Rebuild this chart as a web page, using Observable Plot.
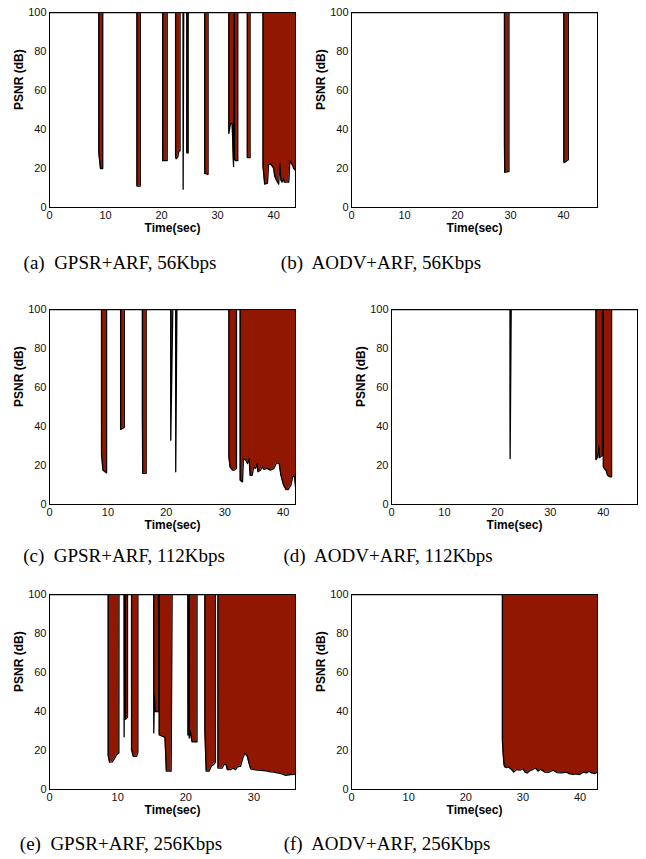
<!DOCTYPE html>
<html><head><meta charset="utf-8">
<script src="https://cdn.jsdelivr.net/npm/d3@7"></script>
<script src="https://cdn.jsdelivr.net/npm/@observablehq/plot@0.6"></script>
<style>
body{margin:0;background:#fff;}
#wrap{position:relative;width:646px;height:859px;overflow:hidden;background:#fff;}
.panel{position:absolute;}
.cap{position:absolute;font-family:"Liberation Serif","Times New Roman",serif;font-size:19px;line-height:1;white-space:pre;color:#000;transform:translate(-50%,-50%);}
</style></head><body><div id="wrap"></div>
<script>
// (a) GPSR+ARF, 56Kbps
const timeA = [0, 8.8, 8.8, 9.1, 9.5, 9.5, 15.6, 15.6, 16.2, 16.2, 20.2, 20.2, 21.0, 21.0, 22.5, 22.5, 22.6, 22.9, 23.1, 23.3, 23.3, 23.85, 23.85, 23.95, 24.5, 24.5, 24.75, 24.75, 27.7, 27.7, 28.3, 28.3, 32.0, 32.0, 32.3, 32.6, 32.8, 32.85, 32.9, 33.0, 33.0, 33.2, 33.6, 33.6, 35.3, 35.3, 35.8, 35.8, 38.1, 38.1, 38.4, 38.9, 39.1, 39.4, 39.8, 40.0, 40.2, 40.5, 40.9, 41.1, 41.3, 41.5, 41.7, 41.9, 42.7, 42.9, 43.3, 43.6, 43.9];
const psnrA = [100, 100, 28, 20, 20, 100, 100, 11, 11, 100, 100, 24, 24, 100, 100, 26, 25, 26, 29, 29, 100, 100, 9.4, 100, 100, 28, 28, 100, 100, 17.5, 17, 100, 100, 38, 43, 43, 25, 21, 100, 100, 25, 24, 24, 100, 100, 25.6, 25.6, 100, 100, 21, 12, 12.5, 22, 22.5, 21, 20, 16, 14, 12, 22.5, 14, 13, 15, 13, 13, 24, 22, 20, 19];
// (b) AODV+ARF, 56Kbps
const timeB = [0, 28.85, 28.85, 28.9, 29.7, 29.7, 40.05, 40.05, 40.1, 40.9, 40.9, 46.4];
const psnrB = [100, 100, 33, 18, 18.5, 100, 100, 24, 23, 24.5, 100, 100];
// (c) GPSR+ARF, 112Kbps
const timeC = [0, 8.9, 8.9, 9.15, 9.5, 9.77, 9.77, 12.17, 12.17, 12.8, 12.8, 15.9, 15.9, 15.95, 16.55, 16.55, 20.75, 20.75, 21.1, 21.6, 21.6, 21.8, 30.7, 30.7, 30.9, 31.3, 31.6, 32.0, 32.0, 32.63, 32.63, 33.03, 33.2, 33.6, 33.89, 34.17, 34.34, 34.69, 34.97, 35.26, 35.54, 35.66, 36.11, 36.4, 36.69, 37.26, 37.83, 38.4, 38.86, 39.31, 39.6, 40.06, 40.46, 40.86, 41.31, 41.66, 41.95, 42.1];
const psnrC = [100, 100, 26, 17.6, 16.8, 16.2, 100, 100, 38.5, 39.5, 100, 100, 45, 16, 16, 100, 100, 33, 100, 100, 16.8, 100, 100, 24.4, 19.3, 17.6, 17.6, 18.5, 100, 100, 12.5, 11.6, 23.6, 22.7, 21, 23.6, 15, 15, 19.3, 18.5, 21, 16.8, 17.6, 19.3, 18, 18.5, 17.6, 18.5, 21.4, 21, 15, 9.9, 7.7, 7.7, 9.9, 14.5, 14.5, 9];
// (d) AODV+ARF, 112Kbps
const timeD = [0, 22.4, 22.4, 22.6, 38.6, 38.6, 38.9, 39.05, 39.15, 39.25, 39.74, 39.74, 40.0, 40.0, 40.3, 40.5, 40.8, 41.2, 41.56, 41.56, 46.45];
const psnrD = [100, 100, 23.6, 100, 100, 23, 24, 30, 30, 24, 25, 100, 100, 19.3, 18, 17.6, 15, 14.2, 14.2, 100, 100];
// (e) GPSR+ARF, 256Kbps
const timeE = [0, 8.61, 8.61, 8.81, 9.2, 9.45, 9.84, 10.18, 10.2, 10.95, 10.95, 11.05, 11.15, 11.15, 11.45, 11.45, 12.04, 12.04, 12.29, 12.78, 12.97, 12.97, 15.3, 15.3, 15.4, 15.5, 15.95, 16.0, 16.1, 16.1, 16.8, 16.95, 17.15, 17.85, 18.0, 20.3, 20.3, 20.4, 20.5, 20.5, 20.65, 20.9, 21.65, 21.65, 22.8, 22.8, 23.0, 23.4, 23.75, 24.1, 24.35, 24.35, 24.72, 24.72, 25.36, 25.6, 25.94, 26.09, 26.58, 26.92, 27.31, 27.55, 28.04, 28.38, 28.68, 29.03, 29.27, 29.52, 30.0, 30.5, 31.47, 31.96, 32.45, 32.94, 33.43, 33.92, 34.66, 35.39, 35.88, 36.1];
const psnrE = [100, 100, 17.4, 14, 14.2, 15.3, 17.9, 18.7, 100, 100, 27, 100, 100, 36, 37, 100, 100, 20.4, 17, 17, 19, 100, 100, 29, 48, 40, 40, 100, 100, 28, 27, 26.4, 9.4, 9.4, 100, 100, 28, 100, 100, 26.4, 30, 24.5, 24.5, 100, 100, 30, 9.4, 9.4, 12, 12.8, 14, 100, 100, 11, 11, 12.8, 12.8, 10.2, 10.2, 10.9, 10.2, 11.6, 11.9, 16.2, 18.7, 17, 13.6, 10.6, 10.2, 9.9, 9.7, 9.4, 9.0, 8.9, 8.5, 8.2, 7.3, 7.7, 7.8, 7.7];
// (f) AODV+ARF, 256Kbps
const timeF = [0, 26.41, 26.41, 26.5, 26.6, 26.7, 26.85, 27.1, 27.45, 28.0, 28.4, 28.9, 29.5, 30.0, 30.4, 30.75, 31.3, 31.5, 32.2, 32.65, 33.05, 33.6, 33.85, 34.5, 35.05, 35.3, 35.9, 36.75, 37.7, 38.0, 38.85, 39.1, 39.95, 40.5, 41.1, 41.6, 42.0, 42.6, 42.95, 43.05];
const psnrF = [100, 100, 25, 20, 16, 12.5, 11.6, 11.2, 11.6, 10.2, 9, 10.2, 9.9, 10.6, 8.8, 8.5, 9.9, 9.9, 11, 9.4, 10.4, 9.4, 8.9, 8.8, 9.6, 9.9, 8.7, 8.5, 8.9, 8.2, 7.7, 8, 7.7, 8.9, 8.5, 9.4, 8.5, 8.2, 8.9, 9.6];

const xTicks = [0, 10, 20, 30, 40];
const yTicks = [0, 20, 40, 60, 80, 100];
const captions = ["(a)  GPSR+ARF, 56Kbps", "(b)  AODV+ARF, 56Kbps", "(c)  GPSR+ARF, 112Kbps", "(d)  AODV+ARF, 112Kbps", "(e)  GPSR+ARF, 256Kbps", "(f)  AODV+ARF, 256Kbps"];
const xMax = [43.9, 46.4, 42.1, 46.45, 36.1, 43.05];

const series = [[timeA, psnrA], [timeB, psnrB], [timeC, psnrC], [timeD, psnrD], [timeE, psnrE], [timeF, psnrF]];
// layout: frame left/top, caption centre
const layout = [
  {fx: 49, fy: 12, cx: 120, cy: 262},
  {fx: 351, fy: 12, cx: 381, cy: 262},
  {fx: 49, fy: 309, cx: 124, cy: 555},
  {fx: 391, fy: 309, cx: 388, cy: 555},
  {fx: 49, fy: 594, cx: 121, cy: 843},
  {fx: 351, fy: 594, cx: 387, cy: 843}
];

const wrap = document.getElementById("wrap");
const ML = 49, MT = 12, MR = 12, MB = 36, W = 246, H = 195;
series.forEach(([ts, vs], i) => {
  const data = ts.map((t, j) => ({t, v: vs[j]}));
  const L = layout[i];
  const svg = Plot.plot({
    width: W + ML + MR, height: H + MT + MB,
    marginLeft: ML, marginTop: MT, marginRight: MR, marginBottom: MB,
    style: {fontFamily: "'Liberation Sans', Arial, Helvetica, sans-serif", fontSize: "11px", color: "#111", background: "transparent", overflow: "visible"},
    x: {domain: [0, xMax[i]], ticks: xTicks.filter(d => d <= xMax[i]), tickSize: 0, tickPadding: 4, label: null},
    y: {domain: [0, 100], ticks: yTicks, tickSize: 0, tickPadding: 3, label: null},
    marks: [
      Plot.areaY(data, {x: "t", y1: "v", y2: d => 100, fill: "#921700", curve: "linear"}),
      Plot.line(data, {x: "t", y: "v", stroke: "#000", strokeWidth: 1.3, clip: true}),
      Plot.frame({stroke: "#000", strokeWidth: 1}),
      Plot.text(["Time(sec)"], {text: d => d, frameAnchor: "bottom", dy: 24, fontWeight: "bold", fontSize: 12, fill: "#000"}),
      Plot.text(["PSNR (dB)"], {text: d => d, frameAnchor: "left", dx: -30, rotate: -90, fontWeight: "bold", fontSize: 12, fill: "#000"})
    ]
  });
  svg.classList.add("panel");
  svg.style.left = (L.fx - ML) + "px";
  svg.style.top = (L.fy - MT) + "px";
  wrap.appendChild(svg);
  const cap = document.createElement("div");
  cap.className = "cap";
  cap.textContent = captions[i];
  cap.style.left = L.cx + "px";
  cap.style.top = L.cy + "px";
  wrap.appendChild(cap);
});
</script></body></html>
